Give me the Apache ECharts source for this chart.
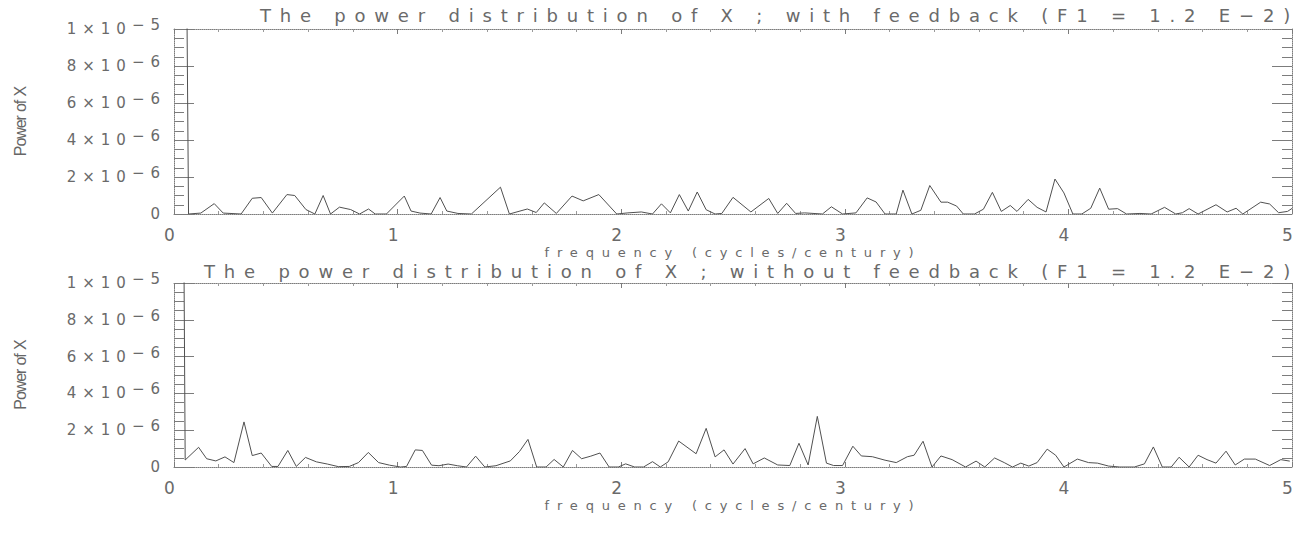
<!DOCTYPE html>
<html>
<head>
<meta charset="utf-8">
<script src="https://cdn.jsdelivr.net/npm/echarts@6/dist/echarts.min.js"></script>
<style>
  html, body { margin: 0; padding: 0; background: #ffffff; }
  #chart { width: 1308px; height: 547px; }
  /* wide plotter-style lettering, keyed by font size */
  #chart text[style*="18px"] { letter-spacing: 8.8px; }
  #chart text[style*="15px"] { letter-spacing: 6px; }
  #chart text[style*="13px"] { letter-spacing: 7.8px; }
  #chart text[style*="17px"] { letter-spacing: 9px; }
  /* the rotated axis name is set tight and narrow */
  #chart text[style*="16px"] { letter-spacing: -1.1px; word-spacing: 1px; }
</style>
</head>
<body>
<div id="chart"></div>
<script>
// Power spectra of X, in units of 1e-6, against frequency (cycles/century)
const freqTop = [0, 0.065, 0.12, 0.18, 0.22, 0.30, 0.35, 0.39, 0.44, 0.505, 0.54, 0.59, 0.63, 0.667, 0.70,
  0.74, 0.79, 0.83, 0.87, 0.90, 0.95, 1.03, 1.06, 1.10, 1.15, 1.19, 1.22, 1.27, 1.33, 1.46, 1.50, 1.58,
  1.62, 1.656, 1.71, 1.78, 1.83, 1.90, 1.98, 2.03, 2.09, 2.14, 2.18, 2.22, 2.26, 2.30, 2.34, 2.38, 2.42,
  2.45, 2.50, 2.58, 2.66, 2.70, 2.74, 2.78, 2.82, 2.90, 2.94, 2.99, 3.05, 3.10, 3.14, 3.18, 3.23, 3.26,
  3.30, 3.34, 3.38, 3.43, 3.46, 3.50, 3.53, 3.58, 3.62, 3.66, 3.70, 3.74, 3.77, 3.82, 3.86, 3.90, 3.94,
  3.98, 4.02, 4.06, 4.10, 4.14, 4.18, 4.22, 4.26, 4.32, 4.37, 4.43, 4.48, 4.51, 4.54, 4.58, 4.66, 4.71,
  4.75, 4.78, 4.86, 4.90, 4.94, 4.98, 5.0];
const powerTop = [100, 0, 0.05, 0.56, 0.05, 0, 0.85, 0.89, 0.05, 1.05, 1.0, 0.24, 0, 1.0, 0,
  0.37, 0.24, 0, 0.27, 0, 0, 0.97, 0.16, 0.05, 0, 0.89, 0.16, 0.03, 0, 1.45, 0, 0.27,
  0.08, 0.6, 0.03, 0.97, 0.71, 1.05, 0, 0.06, 0.11, 0, 0.55, 0.06, 1.05, 0.16, 1.19, 0.23, 0,
  0.03, 0.9, 0.11, 0.84, 0.03, 0.58, 0.03, 0.06, 0, 0.39, 0, 0.06, 0.87, 0.65, 0, 0, 1.29,
  0, 0.2, 1.54, 0.64, 0.64, 0.43, 0, 0, 0.26, 1.17, 0.14, 0.46, 0.14, 0.79, 0.36, 0.11, 1.89,
  1.14, 0, 0, 0.31, 1.4, 0.26, 0.29, 0, 0.03, 0, 0.36, 0, 0.07, 0.29, 0, 0.5, 0.11,
  0.31, 0, 0.64, 0.54, 0.07, 0.14, 0.3];

const freqBottom = [0, 0.05, 0.11, 0.146, 0.187, 0.228, 0.268, 0.313, 0.35, 0.39, 0.437, 0.465, 0.509,
  0.547, 0.588, 0.637, 0.686, 0.735, 0.784, 0.825, 0.869, 0.915, 0.964, 1.013, 1.04, 1.079, 1.111, 1.152,
  1.185, 1.226, 1.267, 1.308, 1.349, 1.39, 1.44, 1.504, 1.545, 1.583, 1.622, 1.664, 1.70, 1.741, 1.782,
  1.823, 1.864, 1.905, 1.946, 1.987, 2.02, 2.06, 2.10, 2.14, 2.175, 2.21, 2.257, 2.335, 2.38, 2.42, 2.46,
  2.50, 2.554, 2.59, 2.64, 2.70, 2.754, 2.795, 2.836, 2.877, 2.918, 2.95, 2.99, 3.036, 3.074, 3.123,
  3.18, 3.23, 3.28, 3.31, 3.35, 3.39, 3.43, 3.48, 3.54, 3.587, 3.626, 3.67, 3.713, 3.75, 3.787, 3.823,
  3.86, 3.905, 3.943, 3.98, 4.04, 4.09, 4.13, 4.18, 4.23, 4.295, 4.34, 4.38, 4.42, 4.46, 4.495, 4.54,
  4.58, 4.62, 4.66, 4.705, 4.746, 4.787, 4.836, 4.90, 4.95, 4.99];
const powerBottom = [100, 0.38, 1.07, 0.45, 0.33, 0.55, 0.24, 2.45, 0.62, 0.76, 0.03, 0.03, 0.9,
  0.03, 0.52, 0.28, 0.16, 0.02, 0.03, 0.24, 0.79, 0.24, 0.1, 0, 0.03, 0.93, 0.9, 0.1,
  0.07, 0.16, 0.07, 0, 0.59, 0, 0.07, 0.33, 0.84, 1.5, 0, 0, 0.41, 0, 0.9,
  0.45, 0.59, 0.76, 0, 0, 0.17, 0, 0, 0.29, 0, 0.28, 1.41, 0.72, 2.1, 0.55, 0.93,
  0.16, 1.0, 0.17, 0.49, 0.11, 0.08, 1.29, 0.11, 2.75, 0.21, 0.08, 0.08, 1.13, 0.6, 0.56,
  0.37, 0.24, 0.56, 0.64, 1.4, 0, 0.6, 0.4, 0, 0.32, 0, 0.49, 0.24, 0, 0.21, 0.05,
  0.24, 0.97, 0.64, 0, 0.43, 0.24, 0.21, 0.05, 0, 0, 0.17, 1.09, 0, 0, 0.53, 0,
  0.64, 0.4, 0.21, 0.86, 0.11, 0.43, 0.43, 0.08, 0.4, 0.32];

const plotTitles = [
  'The power distribution of X ; with feedback (F1 = 1.2 E\u22122)',
  'The power distribution of X ; without feedback (F1 = 1.2 E\u22122)'
];
const xTickLabels = ['0', '1', '2', '3', '4', '5'];
const yTickBase = ['0', '2\u00d710', '4\u00d710', '6\u00d710', '8\u00d710', '1\u00d710'];
const yTickExp = ['', '\u22126', '\u22126', '\u22126', '\u22126', '\u22125'];
const xAxisName = 'frequency (cycles/century)';
const yAxisName = 'Power of X';

const FONT = 'DejaVu Sans';
const TEXT = '#6a6a6a';
const FRAME = '#7c7c7c';

const grids = [
  { left: 174, top: 29, width: 1118, height: 185 },
  { left: 174, top: 283, width: 1118, height: 184 }
];

function frameLine() {
  return { show: true, onZero: false, lineStyle: { color: FRAME, type: 'dotted', width: 1 } };
}

function xAxes(g) {
  const common = {
    gridIndex: g, type: 'value', min: 0, max: 5, interval: 1,
    axisLine: frameLine(),
    axisTick: { show: true, inside: true, length: 5, lineStyle: { color: FRAME } },
    minorTick: { show: true, splitNumber: 5, length: 3, lineStyle: { color: '#9a9a9a' } },
    splitLine: { show: false }
  };
  return [
    Object.assign({}, common, {
      position: 'bottom',
      axisLabel: {
        show: true, margin: 12, fontFamily: FONT, fontSize: 17, color: TEXT,
        formatter: v => xTickLabels[Math.round(v)]
      },
      name: xAxisName, nameLocation: 'middle', nameGap: 32,
      nameTextStyle: { fontFamily: FONT, fontSize: 13, color: TEXT }
    }),
    Object.assign({}, common, { position: 'top', axisLabel: { show: false } })
  ];
}

function yAxes(g) {
  const common = {
    gridIndex: g, type: 'value', min: 0, max: 10, interval: 2,
    axisLine: frameLine(),
    axisTick: { show: true, inside: true, length: 20, lineStyle: { color: FRAME } },
    minorTick: { show: true, splitNumber: 4, length: 10, lineStyle: { color: FRAME } },
    splitLine: { show: false }
  };
  return [
    Object.assign({}, common, {
      position: 'left',
      axisLabel: {
        show: true, margin: 8, fontFamily: FONT, fontSize: 15, color: TEXT,
        formatter: v => {
          const i = Math.round(v / 2);
          return yTickExp[i] ? '{b|' + yTickBase[i] + '}{e|' + yTickExp[i] + '}' : '{b|' + yTickBase[i] + '}';
        },
        rich: {
          b: { fontFamily: FONT, fontSize: 15, color: TEXT },
          e: { fontFamily: FONT, fontSize: 15, color: TEXT, padding: [0, 0, 8, 12] }
        }
      },
      name: yAxisName, nameLocation: 'middle', nameGap: 146, nameRotate: 90,
      nameTextStyle: { fontFamily: 'Liberation Sans', fontSize: 16, color: '#666' }
    }),
    Object.assign({}, common, { position: 'right', axisLabel: { show: false } })
  ];
}

function pairs(fx, py) {
  return fx.map((f, i) => [f, py[i]]);
}

const chart = echarts.init(document.getElementById('chart'), null, { renderer: 'svg' });
chart.setOption({
  animation: false,
  backgroundColor: '#ffffff',
  grid: grids,
  xAxis: [].concat(xAxes(0), xAxes(1)),
  yAxis: [].concat(yAxes(0), yAxes(1)),
  graphic: [
    { type: 'text', x: 1299, y: 15, style: { text: plotTitles[0], font: '18px "DejaVu Sans"', fill: TEXT, textAlign: 'right', textVerticalAlign: 'middle' } },
    { type: 'text', x: 1299, y: 271, style: { text: plotTitles[1], font: '18px "DejaVu Sans"', fill: TEXT, textAlign: 'right', textVerticalAlign: 'middle' } }
  ],
  series: [
    {
      type: 'line', xAxisIndex: 0, yAxisIndex: 0, data: pairs(freqTop, powerTop),
      symbol: 'none', clip: true, lineStyle: { color: '#505050', width: 1 }
    },
    {
      type: 'line', xAxisIndex: 2, yAxisIndex: 2, data: pairs(freqBottom, powerBottom),
      symbol: 'none', clip: true, lineStyle: { color: '#505050', width: 1 }
    }
  ]
});
</script>
</body>
</html>
